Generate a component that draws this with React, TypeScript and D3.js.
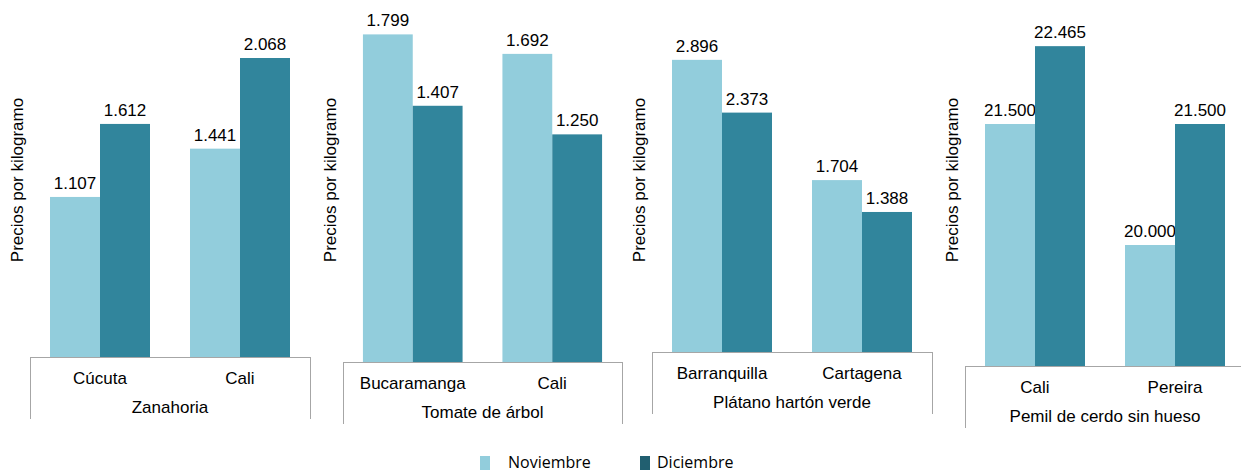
import * as d3 from 'd3';
import { useEffect, useRef } from 'react';

// datos: precios por kilogramo (pesos)
const productos = ['Zanahoria', 'Tomate de árbol', 'Plátano hartón verde', 'Pemil de cerdo sin hueso'];
const ciudades = [
  ['Cúcuta', 'Cali'],
  ['Bucaramanga', 'Cali'],
  ['Barranquilla', 'Cartagena'],
  ['Cali', 'Pereira'],
];
const noviembre = [
  [1107, 1441],
  [1799, 1692],
  [2896, 1704],
  [21500, 20000],
];
const diciembre = [
  [1612, 2068],
  [1407, 1250],
  [2373, 1388],
  [22465, 21500],
];
const series = ['Noviembre', 'Diciembre'];
const yLabel = 'Precios por kilogramo';

// layout of each small chart
const panels = [
  { left: 30, right: 310, base: 357, top: 10, yMin: 0, yMax: 2400 },
  { left: 343, right: 622, base: 362, top: 16, yMin: 0, yMax: 1900 },
  { left: 652, right: 932, base: 352, top: 9, yMin: 0, yMax: 3400 },
  { left: 965, right: 1245, base: 366, top: 3, yMin: 18500, yMax: 23000 },
];

const W = 1241;
const H = 474;
const barColors = ['#92CDDC', '#31859C'];
const legendColors = ['#92CDDC', '#215F70'];
const axisColor = '#A6A6A6';
const font = '"Liberation Sans", Arial, sans-serif';

const es = d3.formatLocale({ decimal: ',', thousands: '.', grouping: [3], currency: ['$', ''] });
const fmt = es.format(',.0f');

export default function App() {
  const svgRef = useRef<SVGSVGElement>(null);

  useEffect(() => {
    const svg = d3.select(svgRef.current);
    svg.selectAll('*').remove();

    svg.append('rect').attr('width', W).attr('height', H).attr('fill', '#fff');

    productos.forEach((prod, i) => {
      const p = panels[i];
      const g = svg.append('g');

      const x = d3.scaleBand<string>()
        .domain(d3.range(ciudades[i].length).map(String))
        .range([p.left, p.right])
        .paddingInner(2 / 7)
        .paddingOuter(1 / 7);
      const xs = d3.scaleBand<string>().domain(series).range([0, x.bandwidth()]);
      const y = d3.scaleLinear().domain([p.yMin, p.yMax]).range([p.base, p.top]);

      const rows = ciudades[i].map((c, j) => ({
        key: String(j),
        city: c,
        vals: [noviembre[i][j], diciembre[i][j]],
      }));

      // bars
      rows.forEach((r) => {
        r.vals.forEach((v, k) => {
          const bx = (x(r.key) ?? 0) + (xs(series[k]) ?? 0);
          g.append('rect')
            .attr('x', bx)
            .attr('y', y(v))
            .attr('width', xs.bandwidth())
            .attr('height', p.base - y(v))
            .attr('fill', barColors[k]);
          g.append('text')
            .attr('x', bx + xs.bandwidth() / 2)
            .attr('y', y(v) - 8)
            .attr('text-anchor', 'middle')
            .attr('font-family', font)
            .attr('font-size', 17)
            .attr('fill', '#000')
            .text(fmt(v));
        });
        g.append('text')
          .attr('x', (x(r.key) ?? 0) + x.bandwidth() / 2)
          .attr('y', p.base + 27)
          .attr('text-anchor', 'middle')
          .attr('font-family', font)
          .attr('font-size', 17)
          .attr('fill', '#000')
          .text(r.city);
      });

      // category axis with group bracket
      g.append('line')
        .attr('x1', p.left).attr('x2', p.right)
        .attr('y1', p.base + 0.5).attr('y2', p.base + 0.5)
        .attr('stroke', axisColor);
      [p.left, p.right].forEach((lx) => {
        g.append('line')
          .attr('x1', lx + 0.5).attr('x2', lx + 0.5)
          .attr('y1', p.base).attr('y2', p.base + 62)
          .attr('stroke', axisColor);
      });
      g.append('text')
        .attr('x', (p.left + p.right) / 2)
        .attr('y', p.base + 56)
        .attr('text-anchor', 'middle')
        .attr('font-family', font)
        .attr('font-size', 17)
        .attr('fill', '#000')
        .text(prod);

      // y title
      g.append('text')
        .attr('transform', `translate(${p.left - 13},180) rotate(-90)`)
        .attr('text-anchor', 'middle')
        .attr('dominant-baseline', 'central')
        .attr('font-family', font)
        .attr('font-size', 17)
        .attr('fill', '#000')
        .text(yLabel);
    });

    // legend
    const legendX = [480, 640];
    series.forEach((s, k) => {
      svg.append('rect')
        .attr('x', legendX[k]).attr('y', 456)
        .attr('width', 10).attr('height', 14)
        .attr('fill', legendColors[k]);
      svg.append('text')
        .attr('x', legendX[k] + (k === 0 ? 28 : 17))
        .attr('y', 468)
        .attr('font-family', '"Open Sans", "Noto Sans", sans-serif')
        .attr('font-size', 16)
        .attr('fill', '#000')
        .text(s);
    });
  }, []);

  return (
    <div style={{ position: 'absolute', left: 0, top: 0, width: W, height: H, background: '#fff' }}>
      <svg ref={svgRef} width={W} height={H}></svg>
    </div>
  );
}
